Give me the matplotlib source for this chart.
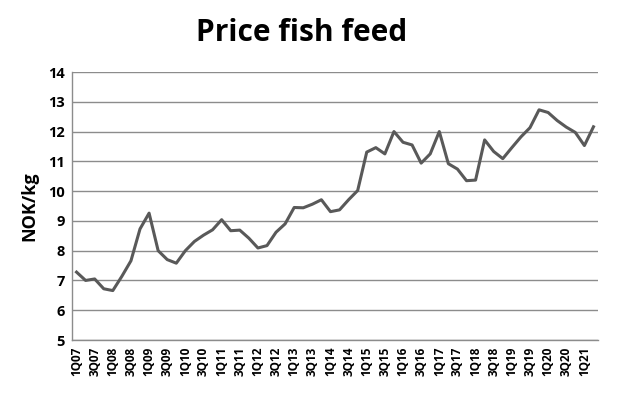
"""Price of fish feed per quarter, NOK/kg."""

import matplotlib.pyplot as plt
import numpy as np

# quarters 1Q07 .. 2Q21
quarters = [f"{q}Q{y:02d}" for y in range(7, 22) for q in range(1, 5)][:58]

price = [7.28, 7.00, 7.05, 6.72, 6.66, 7.14, 7.66, 8.73, 9.26, 8.00,
         7.70, 7.58, 8.00, 8.31, 8.52, 8.70, 9.04, 8.67, 8.69, 8.42,
         8.09, 8.17, 8.62, 8.90, 9.45, 9.44, 9.56, 9.71, 9.31, 9.37,
         9.71, 10.02, 11.31, 11.46, 11.25, 12.00, 11.64, 11.55, 10.94, 11.25,
         12.00, 10.92, 10.74, 10.35, 10.37, 11.72, 11.33, 11.09, 11.46, 11.82,
         12.13, 12.73, 12.64, 12.37, 12.15, 11.97, 11.53, 12.16]

y_ticks = list(range(5, 15))


def main():
    plt.rcParams['font.family'] = ['Open Sans', 'DejaVu Sans']
    fig = plt.figure(figsize=(6.3, 4.08), dpi=100)
    ax = fig.add_axes([72 / 630, 1 - 340 / 408, 526 / 630, 268 / 408])

    x = np.arange(len(price))
    ax.plot(x, price, color='#595959', linewidth=2.2, solid_joinstyle='round')

    ax.set_xlim(-0.5, len(price) - 0.5)
    ax.set_ylim(5, 14)
    ax.set_yticks(y_ticks)
    ax.set_yticklabels([str(v) for v in y_ticks], fontsize=10.5, fontweight='bold')
    ax.set_xticks(x[::2])
    ax.set_xticklabels(quarters[::2], rotation=90, fontsize=8.5, fontweight='bold')
    ax.tick_params(axis='both', length=0, pad=5)

    ax.yaxis.grid(True, color='#8c8c8c', linewidth=1)
    ax.set_axisbelow(True)
    for side in ['top', 'right']:
        ax.spines[side].set_visible(False)
    for side in ['left', 'bottom']:
        ax.spines[side].set_color('#8c8c8c')
        ax.spines[side].set_linewidth(1)

    ax.set_ylabel('NOK/kg', fontsize=13, fontweight='bold', labelpad=7)
    fig.text(302 / 630, 1 - 33 / 408, 'Price fish feed', fontsize=21.5,
             fontweight='bold', ha='center', va='center')

    fig.savefig('out.png', dpi=100, facecolor='white')
    plt.close(fig)


if __name__ == '__main__':
    main()
